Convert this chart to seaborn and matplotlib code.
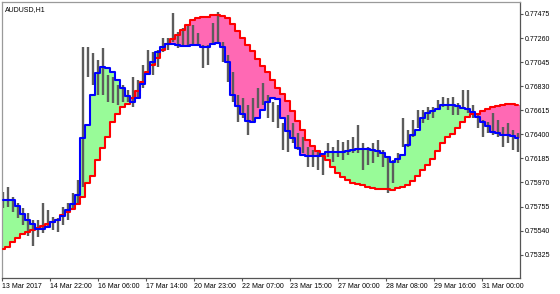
import numpy as np
import pandas as pd
import matplotlib
matplotlib.use("Agg")
import matplotlib.pyplot as plt
import seaborn as sns

# ---- data (AUDUSD H1, one entry per sampled bar) ----
bar_high = [0.75885, 0.75930, 0.75841, 0.75787, 0.75743, 0.75698, 0.75635, 0.75635, 0.75787, 0.75725,
            0.75662, 0.75653, 0.75751, 0.75787, 0.75877, 0.75993, 0.77180, 0.77180, 0.77127, 0.77064,
            0.77171, 0.76930, 0.76912, 0.76841, 0.76841, 0.76796, 0.76912, 0.76886, 0.77020, 0.77153,
            0.77136, 0.77153, 0.77261, 0.77261, 0.77484, 0.77314, 0.77350, 0.77377, 0.77377, 0.77305,
            0.77198, 0.77198, 0.77395, 0.77493, 0.77225, 0.77109, 0.76957, 0.76752, 0.76725, 0.76662,
            0.76725, 0.76814, 0.76859, 0.76752, 0.76689, 0.76662, 0.76502, 0.76573, 0.76502, 0.76412,
            0.76377, 0.76287, 0.76260, 0.76260, 0.76234, 0.76323, 0.76287, 0.76350, 0.76332, 0.76350,
            0.76377, 0.76484, 0.76323, 0.76287, 0.76323, 0.76350, 0.76260, 0.76198, 0.76171, 0.76234,
            0.76546, 0.76439, 0.76528, 0.76618, 0.76618, 0.76644, 0.76644, 0.76707, 0.76734, 0.76725,
            0.76734, 0.76680, 0.76796, 0.76796, 0.76662, 0.76591, 0.76528, 0.76511, 0.76591, 0.76528,
            0.76466, 0.76502, 0.76439, 0.76412]
bar_low = [0.75743, 0.75751, 0.75707, 0.75653, 0.75591, 0.75493, 0.75403, 0.75484, 0.75519, 0.75564,
           0.75546, 0.75528, 0.75591, 0.75635, 0.75725, 0.75787, 0.75930, 0.76912, 0.76841, 0.76752,
           0.76752, 0.76689, 0.76680, 0.76662, 0.76689, 0.76689, 0.76644, 0.76734, 0.76814, 0.76930,
           0.76930, 0.77002, 0.77136, 0.77153, 0.77225, 0.77171, 0.77180, 0.77180, 0.77198, 0.77198,
           0.76993, 0.77020, 0.77198, 0.77225, 0.77046, 0.76868, 0.76689, 0.76511, 0.76546, 0.76394,
           0.76511, 0.76636, 0.76662, 0.76546, 0.76511, 0.76457, 0.76260, 0.76243, 0.76323, 0.76260,
           0.76234, 0.76109, 0.76109, 0.76082, 0.76037, 0.76198, 0.76153, 0.76198, 0.76171, 0.76216,
           0.76234, 0.76234, 0.76082, 0.76127, 0.76144, 0.76198, 0.76109, 0.75877, 0.75966, 0.76144,
           0.76287, 0.76287, 0.76377, 0.76457, 0.76502, 0.76528, 0.76546, 0.76618, 0.76644, 0.76618,
           0.76573, 0.76573, 0.76644, 0.76591, 0.76546, 0.76457, 0.76377, 0.76412, 0.76394, 0.76377,
           0.76287, 0.76323, 0.76260, 0.76243]
blue_line = [0.75810, 0.75810, 0.75810, 0.75760, 0.75693, 0.75635, 0.75600, 0.75551, 0.75551, 0.75573,
             0.75618, 0.75635, 0.75671, 0.75725, 0.75778, 0.75859, 0.76368, 0.76484, 0.76752, 0.76948,
             0.77004, 0.76993, 0.76957, 0.76886, 0.76814, 0.76743, 0.76689, 0.76725, 0.76850, 0.76939,
             0.77046, 0.77136, 0.77180, 0.77203, 0.77203, 0.77194, 0.77189, 0.77189, 0.77194, 0.77194,
             0.77183, 0.77183, 0.77207, 0.77219, 0.77180, 0.77046, 0.76752, 0.76653, 0.76582, 0.76519,
             0.76511, 0.76546, 0.76618, 0.76689, 0.76725, 0.76716, 0.76546, 0.76430, 0.76368, 0.76278,
             0.76216, 0.76207, 0.76207, 0.76207, 0.76225, 0.76243, 0.76245, 0.76245, 0.76245, 0.76252,
             0.76260, 0.76269, 0.76269, 0.76267, 0.76260, 0.76254, 0.76234, 0.76195, 0.76156, 0.76180,
             0.76216, 0.76305, 0.76394, 0.76439, 0.76544, 0.76594, 0.76609, 0.76627, 0.76662, 0.76658,
             0.76658, 0.76649, 0.76636, 0.76622, 0.76603, 0.76558, 0.76513, 0.76475, 0.76424, 0.76412,
             0.76394, 0.76394, 0.76386, 0.76368]
red_line = [0.75376, 0.75397, 0.75439, 0.75475, 0.75510, 0.75528, 0.75546, 0.75564, 0.75582, 0.75600,
            0.75618, 0.75635, 0.75680, 0.75707, 0.75734, 0.75778, 0.75841, 0.75966, 0.76028, 0.76171,
            0.76278, 0.76377, 0.76511, 0.76582, 0.76644, 0.76671, 0.76725, 0.76787, 0.76868, 0.76957,
            0.77020, 0.77082, 0.77153, 0.77207, 0.77252, 0.77287, 0.77332, 0.77377, 0.77417, 0.77435,
            0.77444, 0.77451, 0.77466, 0.77466, 0.77460, 0.77439, 0.77386, 0.77323, 0.77261, 0.77198,
            0.77145, 0.77073, 0.77011, 0.76957, 0.76886, 0.76814, 0.76761, 0.76698, 0.76609, 0.76519,
            0.76439, 0.76350, 0.76296, 0.76252, 0.76207, 0.76171, 0.76109, 0.76055, 0.76019, 0.75993,
            0.75968, 0.75957, 0.75948, 0.75930, 0.75921, 0.75915, 0.75912, 0.75908, 0.75903, 0.75917,
            0.75930, 0.75948, 0.75984, 0.76028, 0.76082, 0.76127, 0.76180, 0.76252, 0.76323, 0.76377,
            0.76403, 0.76457, 0.76511, 0.76555, 0.76582, 0.76586, 0.76609, 0.76627, 0.76644, 0.76653,
            0.76662, 0.76667, 0.76669, 0.76662]
x_tick_labels = ["13 Mar 2017", "14 Mar 22:00", "16 Mar 06:00", "17 Mar 14:00", "20 Mar 23:00",
                 "22 Mar 07:00", "23 Mar 15:00", "27 Mar 00:00", "28 Mar 08:00", "29 Mar 16:00",
                 "31 Mar 00:00"]
y_tick_values = [0.75325, 0.75540, 0.75755, 0.75970, 0.76185, 0.76400, 0.76615, 0.76830,
                 0.77045, 0.77260, 0.77475]
title_text = "AUDUSD,H1"

# ---- figure ----
sns.set_theme(style="white")
plt.rcParams["font.family"] = ["Liberation Sans", "DejaVu Sans"]

W, H = 560, 294
fig = plt.figure(figsize=(W / 100, H / 100), dpi=100)
ax = fig.add_axes([2 / W, 1 - 278 / H, 518 / W, 276 / H])

n = len(blue_line)
df = pd.DataFrame({"bar": np.arange(n), "high": bar_high, "low": bar_low,
                   "blue": blue_line, "red": red_line})

# filled cloud between the two lines (step shaped)
lo = np.minimum(df["blue"], df["red"])
hi = np.maximum(df["blue"], df["red"])
cols = np.where(df["blue"] >= df["red"], "#98FB98", "#FF69B4")
ax.bar(df["bar"], hi - lo, bottom=lo, width=1.0, color=cols, linewidth=0, zorder=1)

# price bars
ax.vlines(df["bar"], df["low"], df["high"], color="#5c5c5c", linewidth=1.7, zorder=2)

# indicator lines
sns.lineplot(data=df, x="bar", y="red", color="#FF0000", linewidth=1.5,
             drawstyle="steps-mid", ax=ax, zorder=3)
sns.lineplot(data=df, x="bar", y="blue", color="#0000FF", linewidth=1.5,
             drawstyle="steps-mid", ax=ax, zorder=4)

ax.set_xlim(-0.1, 103.5)
ax.set_ylim(0.75117, 0.77582)
ax.set_xlabel("")
ax.set_ylabel("")

xt = [-0.1 + 9.6 * k for k in range(len(x_tick_labels))]
ax.set_xticks(xt)
ax.set_xticklabels(x_tick_labels, ha="left", fontsize=5.0, color="#000000")
ax.set_yticks(y_tick_values)
ax.set_yticklabels([f"{v:.5f}" for v in y_tick_values], fontsize=5.0, color="#000000")
ax.yaxis.tick_right()
ax.tick_params(axis="both", which="both", direction="out", length=2.5, width=0.8,
               color="#555555", pad=1.0, bottom=True, right=True, left=False, top=False)

for side in ["left", "top"]:
    ax.spines[side].set_color("#9a9a9a")
    ax.spines[side].set_linewidth(0.9)
for side in ["right", "bottom"]:
    ax.spines[side].set_color("#555555")
    ax.spines[side].set_linewidth(0.9)

ax.text(0.006, 0.985, title_text, transform=ax.transAxes, ha="left", va="top",
        fontsize=5.0, color="#000000")

fig.savefig("out.png", dpi=100, facecolor="white")
